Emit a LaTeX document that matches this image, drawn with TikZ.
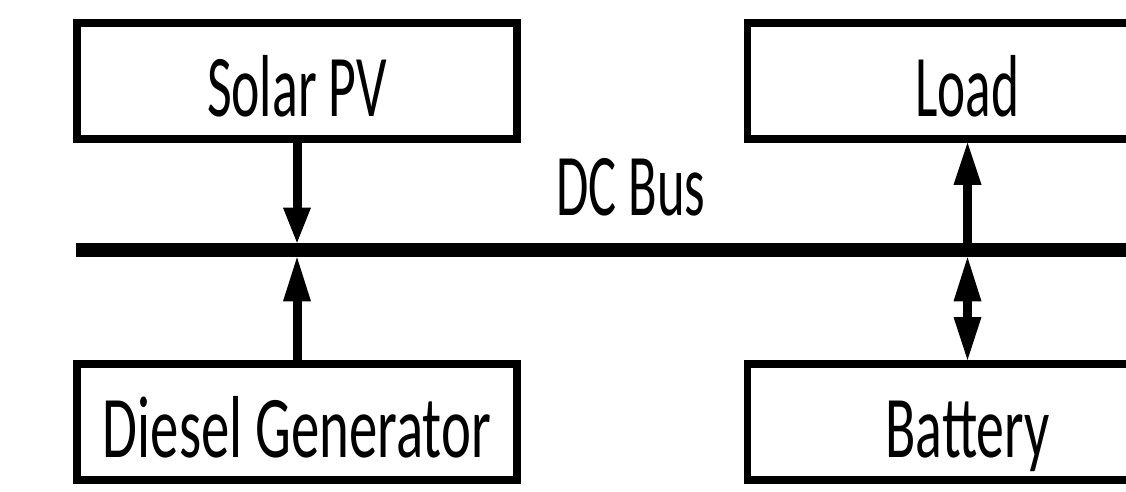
\documentclass[tikz,border=0pt]{standalone}
\usepackage{fontspec}
\setmainfont{Carlito}
\usepackage{graphicx}
\usetikzlibrary{arrows.meta}
\newcommand{\squeezetext}[2]{\resizebox{#1pt}{\height}{#2}}
\tikzset{
  bigfont/.style={font=\fontsize{88}{100}\selectfont},
  unitbox/.style={draw, line width=7.5pt, minimum width=440pt, minimum height=116pt,
    inner sep=0pt, text height=72pt, text depth=0pt, bigfont},
  busbar/.style={fill=black, inner sep=0pt, outer sep=0pt, minimum height=14.6pt},
  flow/.style={line width=9pt},
  headA/.style={-{Triangle[length=#1,width=28pt,line width=0pt 0]}},
}
\begin{document}
\begin{tikzpicture}[x=1pt,y=-1pt]
\clip (0,0) rectangle (1126,492);
\fill[white] (0,0) rectangle (1126,492);
\node[unitbox] (solar) at (297,81) {\squeezetext{180}{Solar PV}};
\node[unitbox] (load) at (967.5,81) {\squeezetext{104}{Load}};
\node[unitbox] (diesel) at (297,421.75) {\squeezetext{388}{Diesel Generator}};
\node[unitbox] (battery) at (967.5,421.75) {\squeezetext{164}{Battery}};
\node[busbar, minimum width=1124pt, anchor=west] (bus) at (76,250) {};
\node[bigfont, anchor=base, inner sep=0pt] (dclabel) at (631,215) {\squeezetext{149}{DC Bus}};
\draw[flow, headA=35pt] (solar.south) -- (solar.south |- bus.north);
\draw[flow, headA=44pt] (diesel.north) -- (diesel.north |- bus.south);
\draw[flow, headA=42pt] (load.south |- bus.north) -- (load.south);
\draw[flow, {Triangle[length=44pt,width=28pt,line width=0pt 0]}-{Triangle[length=43pt,width=28pt,line width=0pt 0]}] (battery.north |- bus.south) -- (battery.north);
\end{tikzpicture}
\end{document}
